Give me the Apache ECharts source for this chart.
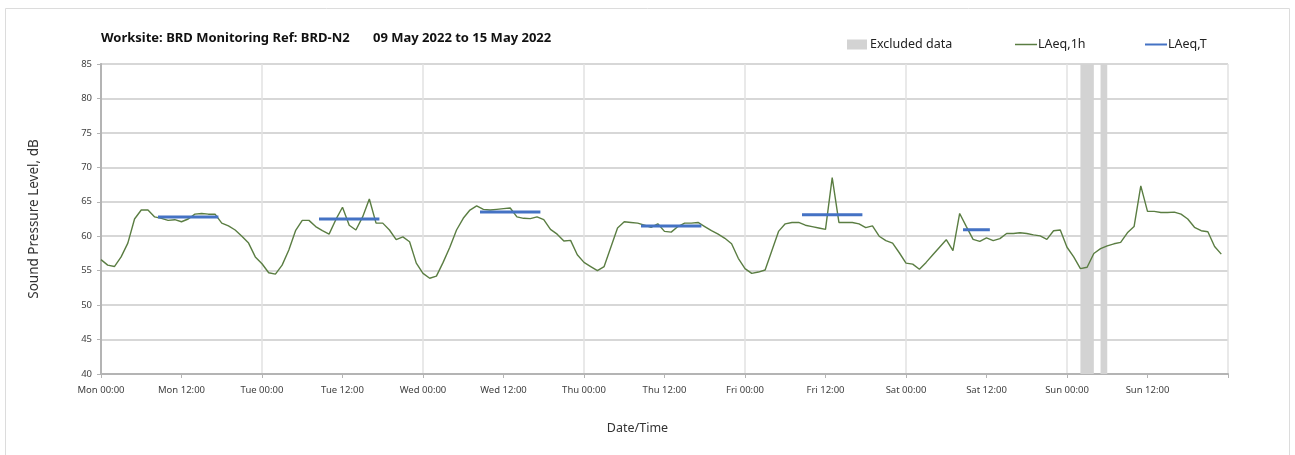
<!DOCTYPE html>
<html>
<head>
<meta charset="utf-8">
<script src="https://cdn.jsdelivr.net/npm/echarts@6/dist/echarts.min.js"></script>
<style>
  html, body { margin: 0; padding: 0; background: #ffffff; }
  #chart { width: 1295px; height: 455px; }
</style>
</head>
<body>
<div id="chart"></div>
<script>
// Hourly LAeq,1h readings, Mon 00:00 (hour 0) to Sun 23:00 (hour 167)
const laeq1hMon = [56.6, 55.8, 55.6, 57.0, 59.0, 62.5, 63.8, 63.8, 62.8, 62.6, 62.3, 62.4, 62.1, 62.5, 63.2, 63.3, 63.2, 63.2, 61.9, 61.5, 60.9, 60.0, 59.0, 57.0];
const laeq1hTue = [56.0, 54.7, 54.5, 55.8, 58.0, 60.8, 62.3, 62.3, 61.4, 60.8, 60.3, 62.4, 64.2, 61.6, 60.9, 62.8, 65.4, 61.9, 61.9, 60.9, 59.5, 59.9, 59.2, 56.1];
const laeq1hWed = [54.6, 53.9, 54.2, 56.2, 58.4, 60.9, 62.6, 63.8, 64.4, 63.9, 63.8, 63.9, 64.0, 64.1, 62.8, 62.6, 62.55, 62.8, 62.4, 61.0, 60.3, 59.3, 59.4, 57.3];
const laeq1hThu = [56.2, 55.6, 55.0, 55.6, 58.4, 61.2, 62.1, 62.0, 61.9, 61.6, 61.3, 61.8, 60.7, 60.6, 61.4, 61.9, 61.9, 62.0, 61.4, 60.8, 60.3, 59.7, 58.9, 56.8];
const laeq1hFri = [55.3, 54.6, 54.8, 55.1, 57.9, 60.7, 61.8, 62.0, 62.0, 61.6, 61.4, 61.2, 61.0, 68.5, 62.0, 62.0, 62.0, 61.8, 61.25, 61.5, 60.0, 59.35, 59.0, 57.6];
const laeq1hSat = [56.1, 55.95, 55.2, 56.2, 57.3, 58.4, 59.5, 57.9, 63.3, 61.4, 59.55, 59.25, 59.75, 59.35, 59.65, 60.4, 60.4, 60.5, 60.4, 60.2, 60.05, 59.55, 60.8, 60.9];
const laeq1hSun = [58.4, 57.0, 55.3, 55.5, 57.5, 58.2, 58.6, 58.9, 59.1, 60.5, 61.4, 67.3, 63.6, 63.6, 63.45, 63.45, 63.5, 63.2, 62.5, 61.3, 60.8, 60.65, 58.5, 57.4];

// Daytime LAeq,T per assessment period (Mon..Sat)
const laeqT = [62.8, 62.5, 63.5, 61.5, 63.1, 60.95];
const periodStartHour = [8.5, 8.5, 8.5, 8.5, 8.5, 8.5];
const periodEndHour = [17.5, 17.5, 17.5, 17.5, 17.5, 12.5];

// Excluded data windows, in hours from Mon 00:00
const excludedFrom = [146, 149];
const excludedTo = [148, 150];

// Axis tick text
const dayNames = ['Mon', 'Tue', 'Wed', 'Thu', 'Fri', 'Sat', 'Sun'];
const halfDayLabels = ['00:00', '12:00'];

const laeq1h = [].concat(laeq1hMon, laeq1hTue, laeq1hWed, laeq1hThu, laeq1hFri, laeq1hSat, laeq1hSun);
const hourlyData = laeq1h.map((v, i) => [i, v]);

const periodData = [];
laeqT.forEach((v, d) => {
  periodData.push([d * 24 + periodStartHour[d], v]);
  periodData.push([d * 24 + periodEndHour[d], v]);
  periodData.push([d * 24 + periodEndHour[d], '-']);
});

const excludedAreas = excludedFrom.map((f, i) => [{ xAxis: f }, { xAxis: excludedTo[i] }]);

const FONT = '"Noto Sans", "Open Sans", sans-serif';
const AXIS_GREY = '#b4b4b4';

const chart = echarts.init(document.getElementById('chart'), null, { renderer: 'canvas' });

chart.setOption({
  animation: false,
  backgroundColor: '#ffffff',
  textStyle: { fontFamily: FONT },
  graphic: [{
    type: 'rect',
    shape: { x: 5.5, y: 8.5, width: 1284, height: 470 },
    style: { fill: 'none', stroke: '#dcdcdc', lineWidth: 1 },
    silent: true,
    z: -10
  }],
  title: [
    { text: 'Worksite: BRD Monitoring Ref: BRD-N2', left: 96, top: 27,
      textStyle: { fontSize: 13, fontWeight: 'bold', color: '#111', fontFamily: FONT } },
    { text: '09 May 2022 to 15 May 2022', left: 368, top: 27,
      textStyle: { fontSize: 13, fontWeight: 'bold', color: '#111', fontFamily: FONT } }
  ],
  legend: [
    { data: [{ name: 'Excluded data', icon: 'rect' }], left: 842, top: 33,
      itemWidth: 20, itemHeight: 10, itemGap: 4,
      textStyle: { fontSize: 12.5, color: '#222', fontFamily: FONT, padding: [0, 0, 0, -2] } },
    { data: [{ name: 'LAeq,1h', icon: 'rect', itemStyle: { color: '#5a7d42' } }], left: 1010, top: 33,
      itemWidth: 22, itemHeight: 1.5,
      textStyle: { fontSize: 12.5, color: '#222', fontFamily: FONT, padding: [0, 0, 0, -4] } },
    { data: [{ name: 'LAeq,T', icon: 'rect', itemStyle: { color: '#4472c4' } }], left: 1140, top: 33,
      itemWidth: 22, itemHeight: 2,
      textStyle: { fontSize: 12.5, color: '#222', fontFamily: FONT, padding: [0, 0, 0, -4] } }
  ],
  grid: { left: 101, right: 67, top: 64, bottom: 81, containLabel: false },
  xAxis: [{
    type: 'value', min: 0, max: 168, interval: 12,
    name: 'Date/Time', nameLocation: 'middle', nameGap: 48,
    nameTextStyle: { fontSize: 12.5, color: '#333', padding: [0, 54, 0, 0] },
    axisLine: { show: true, lineStyle: { color: AXIS_GREY, width: 2 } },
    axisTick: { show: true, length: 4, lineStyle: { color: AXIS_GREY, width: 1 } },
    axisLabel: {
      fontSize: 9.5, color: '#404040', margin: 11,
      formatter: (h) => (h >= 168 ? '' : dayNames[Math.floor(h / 24)] + ' ' + halfDayLabels[(h % 24) / 12])
    },
    splitLine: { show: false }
  }, {
    type: 'value', min: 0, max: 168, interval: 24, position: 'bottom',
    axisLine: { show: false }, axisTick: { show: false }, axisLabel: { show: false },
    splitLine: { show: true, lineStyle: { color: '#e2e2e2', width: 1.5 } }
  }],
  yAxis: [{
    type: 'value', min: 40, max: 85, interval: 5,
    name: 'Sound Pressure Level, dB', nameLocation: 'middle', nameGap: 60,
    nameTextStyle: { fontSize: 13.5, color: '#333' },
    axisLine: { show: true, lineStyle: { color: AXIS_GREY, width: 1.5 } },
    axisTick: { show: true, length: 4, lineStyle: { color: AXIS_GREY } },
    axisLabel: { fontSize: 9.5, color: '#404040', margin: 9 },
    splitLine: { show: true, lineStyle: { color: '#cacaca', width: 1.5 } }
  }, {
    type: 'value', min: 40, max: 85, interval: 5, position: 'right',
    axisLine: { show: true, lineStyle: { color: AXIS_GREY, width: 2 } },
    axisTick: { show: false }, axisLabel: { show: false }, splitLine: { show: false }
  }],
  series: [{
    name: 'Excluded data', type: 'line', data: [],
    itemStyle: { color: '#d3d3d3' },
    markArea: { silent: true, itemStyle: { color: '#d3d3d3', opacity: 1 }, data: excludedAreas },
    z: 1
  }, {
    name: 'LAeq,1h', type: 'line', data: hourlyData,
    showSymbol: false, symbol: 'none',
    itemStyle: { color: '#5a7d42' },
    lineStyle: { color: '#5a7d42', width: 1.4 },
    z: 3
  }, {
    name: 'LAeq,T', type: 'line', data: periodData,
    showSymbol: false, symbol: 'none', connectNulls: false,
    itemStyle: { color: '#4472c4' },
    lineStyle: { color: '#4472c4', width: 3 },
    z: 4
  }]
});
</script>
</body>
</html>
